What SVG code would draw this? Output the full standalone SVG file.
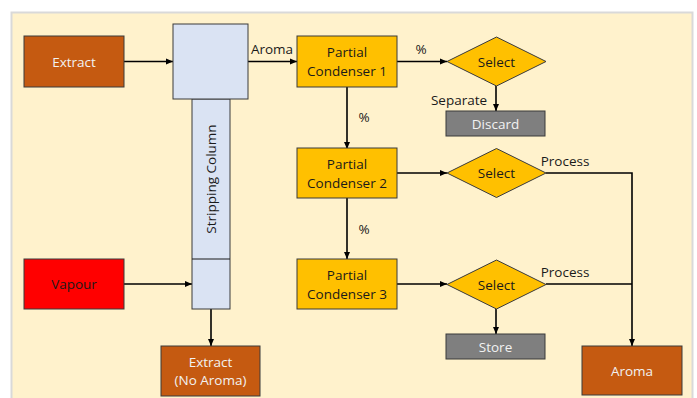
<svg xmlns="http://www.w3.org/2000/svg" width="697" height="398" viewBox="0 0 697 398">
<defs>
<marker id="ah" markerWidth="8" markerHeight="8" refX="7" refY="4" orient="auto" markerUnits="userSpaceOnUse">
<path d="M0,1 L7,4 L0,7 Z" fill="#000"/>
</marker>
<style>
text{font-family:"Open Sans","Liberation Sans",sans-serif;font-size:13.5px;text-anchor:middle;dominant-baseline:central}
.box{stroke:#3a3a3a;stroke-width:1}
.br{fill:#c55a11}.red{fill:#ff0000}.or{fill:#ffc000}.gr{fill:#7f7f7f}.col{fill:#dae3f3}
.w{fill:#f2f2f2}.d{fill:#1a1a1a}
.ln{stroke:#000;stroke-width:1.6;fill:none}
</style>
</defs>
<rect x="11.5" y="12.5" width="681" height="390" fill="#fff2cc" stroke="#d9d9d9" stroke-width="2"/>
<g id="connectors">
<path class="ln" d="M124,61.5 H173" marker-end="url(#ah)"/>
<path class="ln" d="M248,61.5 H297" marker-end="url(#ah)"/>
<path class="ln" d="M397,61.5 H447" marker-end="url(#ah)"/>
<path class="ln" d="M496,86 V111" marker-end="url(#ah)"/>
<path class="ln" d="M347,87 V149" marker-end="url(#ah)"/>
<path class="ln" d="M397,173 H447" marker-end="url(#ah)"/>
<path class="ln" d="M347,198 V259" marker-end="url(#ah)"/>
<path class="ln" d="M397,284 H447" marker-end="url(#ah)"/>
<path class="ln" d="M496,309 V334" marker-end="url(#ah)"/>
<path class="ln" d="M546,173 H632 V346" marker-end="url(#ah)"/>
<path class="ln" d="M546,284 H632"/>
<path class="ln" d="M124,284 H192" marker-end="url(#ah)"/>
<path class="ln" d="M211,309 V346" marker-end="url(#ah)"/>
<text class="d" x="272" y="49">Aroma</text>
<text class="d" x="421" y="49">%</text>
<text class="d" x="459" y="100">Separate</text>
<text class="d" x="364" y="117">%</text>
<text class="d" x="364" y="229">%</text>
<text class="d" x="565" y="161">Process</text>
<text class="d" x="565" y="272">Process</text>
</g>
<g id="extract"><rect class="box br" x="24" y="36" width="100" height="51"/><text class="w" x="74" y="61.5">Extract</text></g>
<g id="vapour"><rect class="box red" x="24" y="259" width="100" height="50"/><text class="d" x="74" y="284">Vapour</text></g>
<g id="column">
<rect class="box col" x="192" y="99" width="38" height="210"/>
<line x1="192" y1="259" x2="230" y2="259" stroke="#1a1a1a" stroke-width="1"/>
<rect class="box col" x="173" y="24" width="75" height="75"/>
<text class="d" transform="translate(211,179) rotate(-90)">Stripping Column</text>
</g>
<g id="extract-no-aroma"><rect class="box br" x="161" y="346" width="99" height="50"/><text class="w" x="210.5" y="362">Extract</text><text class="w" x="210.5" y="380">(No Aroma)</text></g>
<g id="pc1"><rect class="box or" x="297" y="36" width="100" height="51"/><text class="d" x="347" y="52">Partial</text><text class="d" x="347" y="71">Condenser 1</text></g>
<g id="pc2"><rect class="box or" x="297" y="148" width="100" height="50"/><text class="d" x="347" y="164">Partial</text><text class="d" x="347" y="183">Condenser 2</text></g>
<g id="pc3"><rect class="box or" x="297" y="259" width="100" height="50"/><text class="d" x="347" y="275">Partial</text><text class="d" x="347" y="294">Condenser 3</text></g>
<g id="select1"><path class="box or" d="M447,61.5 L496.5,37 L546,61.5 L496.5,86 Z"/><text class="d" x="496.5" y="61.5">Select</text></g>
<g id="select2"><path class="box or" d="M447,173 L496.5,148.5 L546,173 L496.5,197.5 Z"/><text class="d" x="496.5" y="173">Select</text></g>
<g id="select3"><path class="box or" d="M447,284.5 L496.5,260 L546,284.5 L496.5,309 Z"/><text class="d" x="496.5" y="284.5">Select</text></g>
<g id="discard"><rect class="box gr" x="446" y="111" width="99" height="25"/><text class="w" x="495.5" y="123.5">Discard</text></g>
<g id="store"><rect class="box gr" x="446" y="334" width="99" height="25"/><text class="w" x="495.5" y="346.5">Store</text></g>
<g id="aroma"><rect class="box br" x="582" y="346" width="100" height="49"/><text class="w" x="632" y="371">Aroma</text></g>
</svg>
